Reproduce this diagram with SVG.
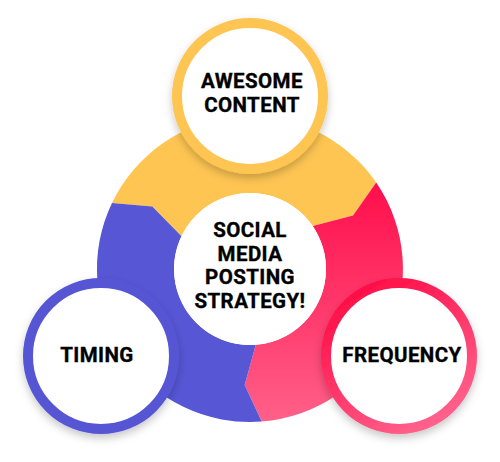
<svg xmlns="http://www.w3.org/2000/svg" width="500" height="462" viewBox="0 0 500 462">
  <defs>
    <linearGradient id="gRed" x1="0" y1="182" x2="0" y2="422" gradientUnits="userSpaceOnUse">
      <stop offset="0" stop-color="#FF0E4B"/>
      <stop offset="1" stop-color="#FF6089"/>
    </linearGradient>
    <linearGradient id="gRing" x1="0.2" y1="0" x2="0.8" y2="1">
      <stop offset="0" stop-color="#FF0A44"/>
      <stop offset="1" stop-color="#FF6690"/>
    </linearGradient>
    <filter id="shadow" x="-30%" y="-30%" width="160%" height="160%">
      <feDropShadow dx="0" dy="4" stdDeviation="4" flood-color="#000" flood-opacity="0.22"/>
    </filter>
    <style>
      .lbl { font-family: Roboto, "Liberation Sans", Arial, sans-serif; font-weight: 700; font-size: 20.5px; letter-spacing: 0.4px; fill: #000; stroke: #000; stroke-width: 0.35; text-anchor: middle; }
      .ring { fill: #fff; stroke-width: 10; }
    </style>
  </defs>

  <g id="connectors">
    <path id="seg-yellow" fill="#FEC553" d="M112.0,202.9 A153,153 0 0 1 376.2,182.6 L353.0,215.6 L312.7,226.1 A76,76 0 0 0 181.5,236.2 L152.3,206.5 Z"/>
    <path id="seg-red" fill="url(#gRed)" d="M376.2,182.6 A153,153 0 0 1 261.7,421.6 L244.7,384.9 L255.8,344.8 A76,76 0 0 0 312.7,226.1 L353.0,215.6 Z"/>
    <path id="seg-blue" fill="#5756D5" d="M261.7,421.6 A153,153 0 0 1 112.0,202.9 L152.3,206.5 L181.5,236.2 A76,76 0 0 0 255.8,344.8 L244.7,384.9 Z"/>
  </g>

  <g id="center">
    <circle cx="250" cy="269" r="76" fill="#fff"/>
    <text class="lbl" x="250" y="237">SOCIAL</text>
    <text class="lbl" x="250" y="260.5">MEDIA</text>
    <text class="lbl" x="250" y="284">POSTING</text>
    <text class="lbl" x="250" y="307.5">STRATEGY!</text>
  </g>

  <g id="awesome-content">
    <circle class="ring" cx="250" cy="96" r="73" stroke="#FEC553" filter="url(#shadow)"/>
    <text class="lbl" x="252" y="88">AWESOME</text>
    <text class="lbl" x="252" y="112">CONTENT</text>
  </g>

  <g id="timing">
    <circle class="ring" cx="101" cy="356" r="73" stroke="#5756D5" filter="url(#shadow)"/>
    <text class="lbl" x="97" y="362">TIMING</text>
  </g>

  <g id="frequency">
    <circle class="ring" cx="399" cy="356" r="73" stroke="url(#gRing)" filter="url(#shadow)"/>
    <text class="lbl" x="402" y="362">FREQUENCY</text>
  </g>
</svg>
